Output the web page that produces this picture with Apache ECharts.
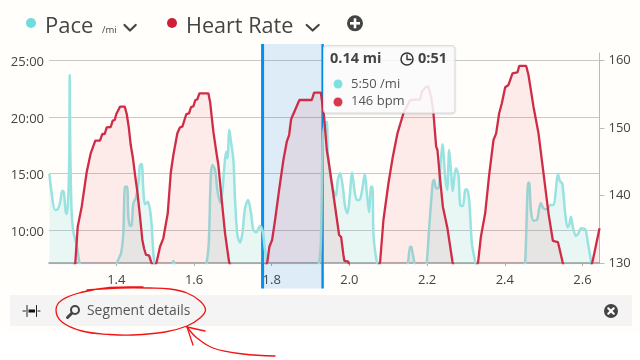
<!DOCTYPE html>
<html>
<head>
<meta charset="utf-8">
<style>html,body{margin:0;padding:0;background:#fff}#c{width:640px;height:360px}</style>
<script src="https://cdn.jsdelivr.net/npm/echarts@6/dist/echarts.min.js"></script>
</head>
<body>
<div id="c"></div>
<script>
const distanceTicks = [1.4, 1.6, 1.8, 2.0, 2.2, 2.4, 2.6];
const paceTicks = [10, 15, 20, 25];
const heartTicks = [130, 140, 150, 160];
const selectedMiles = [1.7765, 1.931];

const paceMiles = [1.2275,1.2336,1.2421,1.2491,1.255,1.2609,1.2645,1.2697,1.2723,1.2764,1.279,1.28,1.2815,1.2851,1.2893,1.298,1.3047,1.3117,1.3967,1.4026,1.4121,1.418,1.4224,1.4276,1.4309,1.4353,1.4397,1.4438,1.45,1.4567,1.461,1.4654,1.4695,1.4739,1.4809,1.4868,1.4912,1.4953,1.4979,1.5022,1.5434,1.5468,1.5512,1.5563,1.6259,1.6328,1.638,1.6431,1.6472,1.6542,1.6601,1.6671,1.673,1.6774,1.6825,1.6859,1.691,1.6946,1.7013,1.7057,1.7116,1.7186,1.7245,1.7314,1.7392,1.7461,1.7528,1.7598,1.7701,1.777,1.7822,1.7873,1.7907,1.9169,1.922,1.9264,1.9315,1.9367,1.9418,1.9444,1.9503,1.9573,1.965,1.9702,1.9761,1.983,1.989,1.9949,2.0,2.007,2.0129,2.0191,2.0258,2.032,2.0397,2.0449,2.0508,2.0559,2.0593,2.0618,2.0662,2.0706,2.074,2.1461,2.1512,2.1564,2.1597,2.1667,2.1718,2.195,2.1994,2.2053,2.2148,2.2182,2.2233,2.2293,2.2336,2.2396,2.2465,2.2516,2.2568,2.262,2.2658,2.2741,2.2807,2.2851,2.2921,2.298,2.3024,2.3083,2.3153,2.3238,2.3289,2.4474,2.4525,2.4569,2.4603,2.4628,2.4672,2.4739,2.4827,2.4886,2.493,2.4997,2.51,2.5169,2.5254,2.5306,2.5367,2.5427,2.5478,2.5555,2.5615,2.5658,2.5702,2.5754,2.5831,2.5898,2.596,2.6071,2.614,2.6225,2.6276,2.6439];
const paceMinutes = [14.97,13.27,11.79,11.85,12.38,13.5,13.41,11.64,11.44,12.97,17.09,23.71,17.09,11.5,9.88,8.7,7.23,6.5,6.5,7.23,7.97,9.74,13.85,13.85,11.2,10.38,10.47,12.38,12.82,14.15,15.76,15.85,13.56,12.29,12.52,11.79,10.32,7.97,7.23,6.5,6.9,7.29,6.9,6.5,6.5,7.23,8.85,14.73,15.76,15.32,13.56,12.44,13.41,15.32,16.94,16.35,18.85,17.97,16.2,12.67,9.59,8.91,9.74,11.94,12.67,11.64,10.03,9.82,10.38,9.88,8.41,7.23,6.5,6.5,7.23,8.85,17.97,19.44,19.58,16.82,15.03,13.71,13.03,14.44,15.03,13.85,12.08,11.5,12.67,15.08,13.56,12.67,12.67,13.41,14.97,13.27,11.59,13.85,13.85,9.74,8.11,7.23,6.5,6.5,7.23,8.55,8.5,7.23,6.5,6.5,7.23,10.18,14.29,14.44,13.71,13.71,15.32,17.59,14.73,13.56,17.09,15.03,13.47,15.47,14.88,12.23,12.14,13.56,13.62,12.67,8.85,7.23,6.5,6.5,7.23,11.79,14.2,14.2,11.79,10.85,10.91,11.94,12.38,11.94,11.85,12.23,12.23,13.27,14.94,14.29,14.15,11.5,10.26,10.47,11.2,10.26,9.5,9.74,10.18,10.09,8.85,7.23,6.5,6.5];

const heartMiles = [1.2275,1.2885,1.2944,1.3006,1.3109,1.3238,1.3341,1.3459,1.358,1.3639,1.3701,1.3753,1.3856,1.3907,1.3959,1.4,1.4044,1.4095,1.4216,1.4268,1.4319,1.4371,1.4422,1.4482,1.4541,1.461,1.467,1.4713,1.4765,1.4842,1.4894,1.4945,1.4997,1.504,1.5125,1.521,1.5324,1.5401,1.5468,1.5571,1.564,1.57,1.5803,1.5872,1.5924,1.5983,1.6034,1.6086,1.6138,1.6369,1.6413,1.6498,1.6586,1.6627,1.6714,1.6799,1.6902,1.6954,1.7829,1.7889,1.794,1.801,1.8087,1.819,1.8301,1.8388,1.8448,1.8499,1.8713,1.9032,1.9091,1.9264,1.9349,1.9418,1.946,1.9547,1.9735,1.9787,1.9846,1.9872,1.9975,2.0006,2.074,2.0791,2.0876,2.1005,2.1118,2.1237,2.1391,2.1564,2.1821,2.1865,2.1976,2.2035,2.2104,2.2164,2.2233,2.2267,2.2336,2.2406,2.2447,2.2524,2.2653,2.2697,2.3263,2.3315,2.3385,2.3495,2.3598,2.3709,2.3778,2.3855,2.3925,2.401,2.4095,2.4198,2.4327,2.4371,2.4551,2.461,2.4739,2.4868,2.4997,2.5125,2.5239,2.5367,2.5427,2.5486,2.553,2.6199,2.6258,2.6439];
const heartBpm = [129,129.26,130,135.38,138.34,143.48,146.25,148.12,148.12,149.11,149.11,150.1,150.15,151.08,151.18,152.07,152.18,153.16,153.16,152.07,150.19,147.48,145.75,143.04,140.56,136.86,133.41,132.18,131.19,131.14,130.19,129.56,129.56,130.19,132.41,133.66,137.36,143.33,146,149.21,150.1,150.19,152.07,152.18,153.11,153.21,154.15,154.25,155.14,155.14,153.9,149.45,146,144.52,139.33,134.4,130.19,129.26,129.26,130.19,132.41,133.41,136.37,140.81,145.26,147.97,148.96,151.29,154.15,154.15,155.23,155.23,151.67,146.74,145.26,141.81,134.15,133.85,131.19,130.3,130.19,129.26,129.26,130.19,136.37,141.81,145.75,149.21,152.18,154.15,154.25,155.38,156.12,156.12,154.64,152.18,147.23,146.74,142.3,138.34,138.1,135.14,130.19,129.26,129.26,130.19,133.9,137.36,143.04,148.22,149.21,152.18,153.66,156.03,156.37,158.1,158.25,159.19,159.19,157.85,153.16,149.21,143.29,137.36,133.26,133.11,131.67,130.19,129.26,129.26,130.19,135.14];

const pairs = (xs, ys) => xs.map((x, i) => [x, ys[i]]);
const FONT = '"Open Sans", "Liberation Sans", sans-serif';
const INK = '#444';

const text = (x, y, t, size, extra) => ({
  type: 'text', x, y, z: 72, silent: true,
  style: Object.assign({ text: t, fontSize: size, fontFamily: FONT, fill: INK, verticalAlign: 'middle', align: 'left' }, extra || {})
});
const dot = (cx, cy, r, fill, z) => ({ type: 'circle', z: z || 50, silent: true, shape: { cx, cy, r }, style: { fill } });
const stroke = (points, color, width, smooth, z) => ({
  type: 'polyline', z: z || 50, silent: true, shape: { points, smooth: smooth || 0 },
  style: { stroke: color, lineWidth: width, fill: null, lineCap: 'round', lineJoin: 'round' }
});

const graphics = [
  { type: 'rect', z: -10, silent: true, shape: { x: 1, y: 0, width: 639, height: 333 }, style: { fill: '#fffefa' } },
  dot(31, 23, 5, '#6fdcdc'),
  text(45, 26.5, 'Pace', 22),
  text(102, 30, '/mi', 9.5),
  stroke([[124.5, 25], [130, 30.5], [135.7, 25]], INK, 2.2),
  dot(172, 23, 5, '#cf1f36'),
  text(186, 26.5, 'Heart Rate', 21.6),
  stroke([[306.7, 25], [312.7, 30.5], [318.7, 25]], INK, 2.2),
  dot(355, 23.3, 8, INK),
  { type: 'rect', z: 51, silent: true, shape: { x: 350, y: 22, width: 10, height: 2.6 }, style: { fill: '#fff' } },
  { type: 'rect', z: 51, silent: true, shape: { x: 353.7, y: 18.3, width: 2.6, height: 10 }, style: { fill: '#fff' } },

  { type: 'rect', z: 5, silent: true, shape: { x: 10, y: 295, width: 622, height: 31 }, style: { fill: '#f4f4f4' } },
  stroke([[23, 311], [25.5, 311]], '#222', 1),
  stroke([[27, 305.5], [27, 316.5]], '#222', 1),
  { type: 'rect', z: 50, silent: true, shape: { x: 28.5, y: 309.5, width: 6.5, height: 3 }, style: { fill: '#111' } },
  stroke([[36.5, 305.5], [36.5, 316.5]], '#222', 1),
  stroke([[38, 311], [40, 311]], '#222', 1),
  { type: 'circle', z: 50, silent: true, shape: { cx: 75, cy: 310, r: 4 }, style: { stroke: INK, lineWidth: 2, fill: null } },
  stroke([[71.8, 313.2], [67.5, 317.5]], INK, 3),
  text(87, 311.5, 'Segment details', 13.9, { fill: '#555' }),
  dot(611, 311, 7, INK),
  stroke([[608.3, 308.3], [613.7, 313.7]], '#fff', 2.2, 0, 51),
  stroke([[613.7, 308.3], [608.3, 313.7]], '#fff', 2.2, 0, 51),

  stroke([[143, 287], [110, 287.5], [83, 292], [62, 300], [56, 310], [62, 322], [82, 331], [110, 334.5], [133, 335], [165, 332], [187, 326], [200, 318], [205.5, 310], [200, 301], [187, 293], [170, 289], [150, 288], [120, 288], [87, 290]], '#f01414', 1.3, 0.4, 60),
  stroke([[275, 356], [243, 354], [213, 348], [197, 338], [187, 327]], '#f01414', 1.3, 0.4, 60),
  stroke([[187, 327], [205, 331]], '#f01414', 1.3, 0, 60),
  stroke([[187, 327], [193, 345]], '#f01414', 1.3, 0, 60),

  { type: 'rect', z: 70, silent: true, shape: { x: 323.5, y: 45.5, width: 131.5, height: 67.5, r: 3 },
    style: { fill: 'rgba(255,255,255,0.86)', stroke: '#ddd', lineWidth: 1, shadowBlur: 2, shadowColor: 'rgba(0,0,0,0.12)', shadowOffsetY: 1 } },
  text(330, 59, '0.14 mi', 14.5, { fontWeight: 'bold' }),
  { type: 'circle', z: 71, silent: true, shape: { cx: 407, cy: 59, r: 6 }, style: { stroke: '#333', lineWidth: 1.5, fill: null } },
  stroke([[407, 55], [407, 59.5], [411, 59.5]], '#333', 1.4, 0, 71),
  text(418, 59, '0:51', 14.5, { fontWeight: 'bold' }),
  dot(338, 84, 4.5, '#7fe0e0', 71),
  text(351, 84, '5:50 /mi', 13, { fill: '#555' }),
  dot(338, 102, 4.5, '#d8394f', 71),
  text(351, 101.5, '146 bpm', 13, { fill: '#555' })
];

const axisText = { color: INK, fontSize: 13, fontFamily: FONT };

const option = {
  animation: false,
  backgroundColor: 'transparent',
  graphic: { elements: graphics },
  grid: { left: 49, right: 40.5, top: 53, bottom: 97, containLabel: false },
  xAxis: {
    type: 'value', min: 1.2267, max: 2.6438,
    axisLine: { onZero: false, lineStyle: { color: '#999', width: 1.5 } },
    axisTick: { show: true, length: 3, lineStyle: { color: '#aaa' }, customValues: distanceTicks },
    axisLabel: Object.assign({ margin: 11, customValues: distanceTicks, formatter: v => v.toFixed(1) }, axisText),
    splitLine: { show: false }
  },
  yAxis: [
    {
      type: 'value', min: 7.114, max: 25.644,
      axisLine: { show: false },
      axisTick: { show: false, customValues: paceTicks },
      axisLabel: Object.assign({ margin: 5, verticalAlign: 'top', lineHeight: 4, customValues: paceTicks, formatter: v => v + ':00' }, axisText),
      splitLine: { show: true, lineStyle: { color: '#c9c9c9', width: 1 } }
    },
    {
      type: 'value', position: 'right', min: 130, max: 161.11,
      axisLine: { show: true, onZero: false, lineStyle: { color: '#bbb', width: 1 } },
      axisTick: { show: true, length: 5, lineStyle: { color: '#bbb' }, customValues: heartTicks },
      axisLabel: Object.assign({ margin: 9, customValues: heartTicks }, axisText),
      splitLine: { show: false }
    }
  ],
  series: [
    {
      type: 'custom', z: 1, silent: true, coordinateSystem: 'cartesian2d', clip: false,
      data: [selectedMiles], encode: { x: [0, 1] },
      renderItem: (params, api) => {
        const l = api.coord([api.value(0), 10])[0];
        const r = api.coord([api.value(1), 10])[0];
        return {
          type: 'group',
          children: [
            { type: 'rect', shape: { x: l, y: 44, width: r - l, height: 244.5 }, style: { fill: 'rgba(0,120,230,0.135)' } },
            { type: 'rect', z2: 5, shape: { x: l - 1.5, y: 44, width: 3, height: 244.5 }, style: { fill: '#0090ee' } },
            { type: 'rect', z2: 5, shape: { x: r - 1.2, y: 44, width: 2.4, height: 244.5 }, style: { fill: '#0090ee' } }
          ]
        };
      }
    },
    {
      name: 'Pace', type: 'line', z: 2, yAxisIndex: 0, showSymbol: false, smooth: 0.3, silent: true,
      data: pairs(paceMiles, paceMinutes),
      lineStyle: { color: '#98e3e1', width: 2.5 },
      itemStyle: { color: '#98e3e1' },
      areaStyle: { color: 'rgba(100,204,210,0.2)', origin: 'start' }
    },
    {
      name: 'Heart Rate', type: 'line', z: 3, yAxisIndex: 1, showSymbol: false, smooth: false, silent: true,
      data: pairs(heartMiles, heartBpm),
      lineStyle: { color: '#cf2c47', width: 2.3 },
      itemStyle: { color: '#cf2c47' },
      areaStyle: { color: 'rgba(220,40,60,0.12)', origin: 'start' }
    }
  ]
};
echarts.init(document.getElementById('c'), null, { renderer: 'canvas' }).setOption(option);
</script>
</body>
</html>
